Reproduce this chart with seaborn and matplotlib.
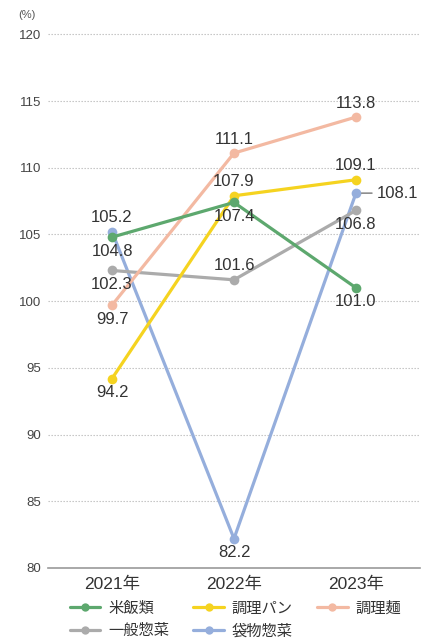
import matplotlib
matplotlib.use("Agg")
import matplotlib.pyplot as plt
import seaborn as sns
import pandas as pd
from matplotlib.lines import Line2D

# Data
years = ["2021年", "2022年", "2023年"]
rice = [104.8, 107.4, 101.0]        # 米飯類
bread = [94.2, 107.9, 109.1]        # 調理パン
noodles = [99.7, 111.1, 113.8]      # 調理麺
general = [102.3, 101.6, 106.8]     # 一般惣菜
packaged = [105.2, 82.2, 108.1]     # 袋物惣菜

series_names = ["米飯類", "調理パン", "調理麺", "一般惣菜", "袋物惣菜"]
series_values = [rice, bread, noodles, general, packaged]
colors = {
    "米飯類": "#5DA86E",
    "調理パン": "#F5D320",
    "調理麺": "#F3B9A2",
    "一般惣菜": "#ABABAB",
    "袋物惣菜": "#95AEDC",
}
y_ticks = [80, 85, 90, 95, 100, 105, 110, 115, 120]

# label placement per series and year: 'above', 'below', 'right'
placement = {
    "米飯類": ["below", "below", "below"],
    "調理パン": ["below", "above", "above"],
    "調理麺": ["below", "above", "above"],
    "一般惣菜": ["below", "above", "below"],
    "袋物惣菜": ["above", "below", "right"],
}

rows = []
for name, vals in zip(series_names, series_values):
    for i, v in enumerate(vals):
        rows.append({"series": name, "x": i, "value": v})
df = pd.DataFrame(rows)

sns.set_theme(style="white")
plt.rcParams["font.family"] = ["Liberation Sans", "Noto Sans CJK JP", "DejaVu Sans"]

fig = plt.figure(figsize=(4.32, 6.42), dpi=100)
ax = fig.add_axes([48 / 432, 74 / 642, 372 / 432, 535 / 642])

draw_order = ["袋物惣菜", "一般惣菜", "調理麺", "調理パン", "米飯類"]
sns.lineplot(
    data=df, x="x", y="value", hue="series", hue_order=draw_order,
    palette=colors, marker="o", markersize=7, markeredgewidth=0,
    linewidth=2.3, sort=False, ax=ax, legend=False,
)

ax.set_xlim(-0.525, 2.525)
ax.set_ylim(80, 120.1)
ax.set_yticks(y_ticks)
ax.set_yticklabels([str(t) for t in y_ticks])
ax.set_xticks(range(len(years)))
ax.set_xticklabels(years)
ax.set_xlabel("")
ax.set_ylabel("")

for t in y_ticks[1:]:
    ax.axhline(t, color="#BDBDBD", lw=0.8, ls=(0, (1.2, 1.5)), zorder=0)
for s in ["left", "right", "top"]:
    ax.spines[s].set_visible(False)
ax.spines["bottom"].set_color("#9A9A9A")
ax.spines["bottom"].set_linewidth(1.2)

ax.tick_params(axis="y", length=0, pad=5, labelsize=9.5, labelcolor="#444444")
ax.tick_params(axis="x", length=0, pad=6, labelsize=12.5, labelcolor="#333333")

ax.text(-0.057, 1.034, "(%)", transform=ax.transAxes, ha="center", va="center",
        fontsize=8, color="#555555")

# value labels
for name, vals in zip(series_names, series_values):
    for i, v in enumerate(vals):
        pos = placement[name][i]
        if pos == "above":
            ax.annotate(f"{v:.1f}", (i, v), xytext=(0, 10), textcoords="offset points",
                        ha="center", va="center", fontsize=12, color="#333333")
        elif pos == "below":
            ax.annotate(f"{v:.1f}", (i, v), xytext=(0, -10), textcoords="offset points",
                        ha="center", va="center", fontsize=12, color="#333333")
        else:
            ax.annotate(f"{v:.1f}", (i, v), xytext=(15, 0), textcoords="offset points",
                        ha="left", va="center", fontsize=12, color="#333333",
                        arrowprops=dict(arrowstyle="-", color="#555555", lw=0.8,
                                        shrinkA=1, shrinkB=4))

# legend laid out row by row in three columns, centred under the plot area
legend_order = ["米飯類", "一般惣菜", "調理パン", "袋物惣菜", "調理麺"]
handles = [Line2D([0], [0], color=colors[n], lw=2.3, marker="o", markersize=6,
                  markeredgewidth=0) for n in legend_order]
fig.legend(handles, legend_order, loc="upper center", bbox_to_anchor=(0.545, 0.08),
           ncol=3, frameon=False, fontsize=11, handlelength=2.0, handletextpad=0.5,
           columnspacing=1.6, labelspacing=0.55, labelcolor="#333333",
           borderpad=0.2)

fig.savefig("out.png", dpi=100)
